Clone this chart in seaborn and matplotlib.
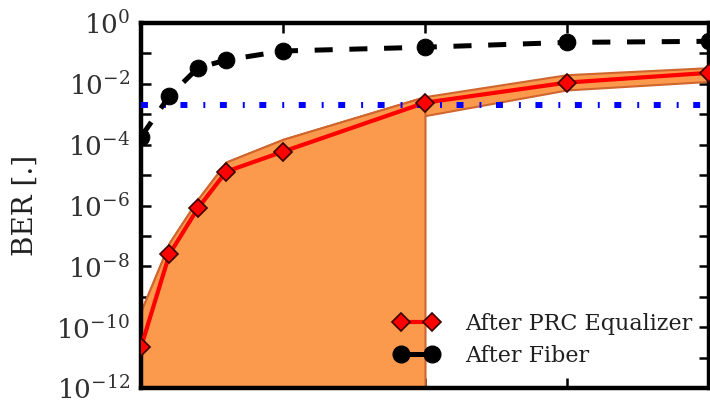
import matplotlib
matplotlib.use("Agg")
import matplotlib.pyplot as plt
import numpy as np
import pandas as pd
import seaborn as sns
from matplotlib.lines import Line2D
from matplotlib.ticker import FixedLocator, LogFormatterMathtext, NullFormatter

# ---- data ----
x_vals = [0, 10, 20, 30, 50, 100, 150, 200]
ber_fiber = [1.8e-4, 4.0e-3, 3.3e-2, 6.1e-2, 1.2e-1, 1.6e-1, 2.3e-1, 2.5e-1]
ber_prc = [2.2e-11, 2.5e-8, 8.0e-7, 1.3e-5, 5.9e-5, 2.4e-3, 1.1e-2, 2.3e-2]
ber_prc_upper = [3.4e-10, 6.0e-8, 1.6e-6, 2.7e-5, 1.5e-4, 3.8e-3, 2.0e-2, 3.4e-2]
ber_prc_lower = [9.0e-12, 1.0e-8, 3.0e-7, 5.0e-6, 2.4e-5, 9.0e-4, 6.3e-3, 1.2e-2]
fec_threshold = 2.0e-3
fill_until = 100
x_ticks = [0, 50, 100, 150, 200]
y_major = [1e0, 1e-2, 1e-4, 1e-6, 1e-8, 1e-10, 1e-12]
y_minor = [1e-1, 1e-3, 1e-5, 1e-7, 1e-9, 1e-11]
legend_labels = ["After PRC Equalizer", "After Fiber"]
y_label = "BER [.]"

df = pd.DataFrame({"x": x_vals, "fiber": ber_fiber, "prc": ber_prc,
                   "upper": ber_prc_upper, "lower": ber_prc_lower})

sns.set_style("ticks")
plt.rcParams["font.family"] = ["DejaVu Serif"]
plt.rcParams["mathtext.fontset"] = "cm"
plt.rcParams["lines.scale_dashes"] = False

fig = plt.figure(figsize=(7.1, 4.0), dpi=100)
ax = fig.add_axes([141 / 710, 12 / 400, 568 / 710, 365 / 400])

fill_c = "#fb9a4c"
edge_c = "#d0652d"

# uncertainty band
ax.fill_between(df["x"], df["lower"], df["upper"], color=fill_c,
                edgecolor=edge_c, linewidth=1.5, zorder=1)
# filled area under the curve
sub = df[df["x"] <= fill_until]
ax.fill_between(sub["x"], 1e-14, sub["upper"], color=fill_c,
                edgecolor=edge_c, linewidth=1.5, zorder=1.5)

# PRC line (line and markers separately for layering)
sns.lineplot(data=df, x="x", y="prc", ax=ax, color="red", lw=3,
             zorder=3, legend=False)
sns.lineplot(data=df, x="x", y="prc", ax=ax, color="red", lw=0,
             marker="D", markersize=9.5, markeredgecolor="#3a0000",
             markeredgewidth=1.2, zorder=6, legend=False)

# Fiber line
sns.lineplot(data=df, x="x", y="fiber", ax=ax, color="black", lw=3.6,
             zorder=5, legend=False)
ax.lines[-1].set_dashes((13, 12))
sns.lineplot(data=df, x="x", y="fiber", ax=ax, color="black", lw=0,
             marker="o", markersize=12, markeredgecolor="black",
             zorder=6, legend=False)

# FEC threshold
ax.axhline(fec_threshold, color="#0000ff", lw=4.3, zorder=4,
           dashes=(5, 11.5, 1.4, 10.5))

ax.set_yscale("log")
ax.set_ylim(1e-12, 1e0)
ax.set_xlim(x_vals[0], x_vals[-1])
ax.yaxis.set_major_locator(FixedLocator(y_major))
ax.yaxis.set_major_formatter(LogFormatterMathtext())
ax.yaxis.set_minor_locator(FixedLocator(y_minor))
ax.yaxis.set_minor_formatter(NullFormatter())
ax.set_xticks(x_ticks)

ax.tick_params(axis="both", which="both", direction="in", length=7,
               width=1.8, color="black", top=True, right=True,
               labelbottom=False)
ax.tick_params(axis="y", which="major", labelsize=19, pad=8,
               labelcolor="#303030")
for s in ax.spines.values():
    s.set_linewidth(3.2)
    s.set_color("black")
    s.set_visible(True)

ax.set_xlabel("")
ax.set_ylabel(y_label, fontsize=20, labelpad=13, color="#202020")

handles = [
    Line2D([], [], color="red", lw=3, marker="D", markersize=9.5,
           markerfacecolor="red", markeredgecolor="#3a0000",
           markeredgewidth=1.2),
    Line2D([], [], color="black", lw=3.6, marker="o", markersize=12),
]
leg = ax.legend(handles, legend_labels, loc="lower right", frameon=False,
                fontsize=16, numpoints=2, handlelength=2.0,
                handletextpad=1.2, labelspacing=0.45,
                bbox_to_anchor=(1.006, 0.002))
for t in leg.get_texts():
    t.set_color("#202020")

fig.savefig("out.png", dpi=100)
